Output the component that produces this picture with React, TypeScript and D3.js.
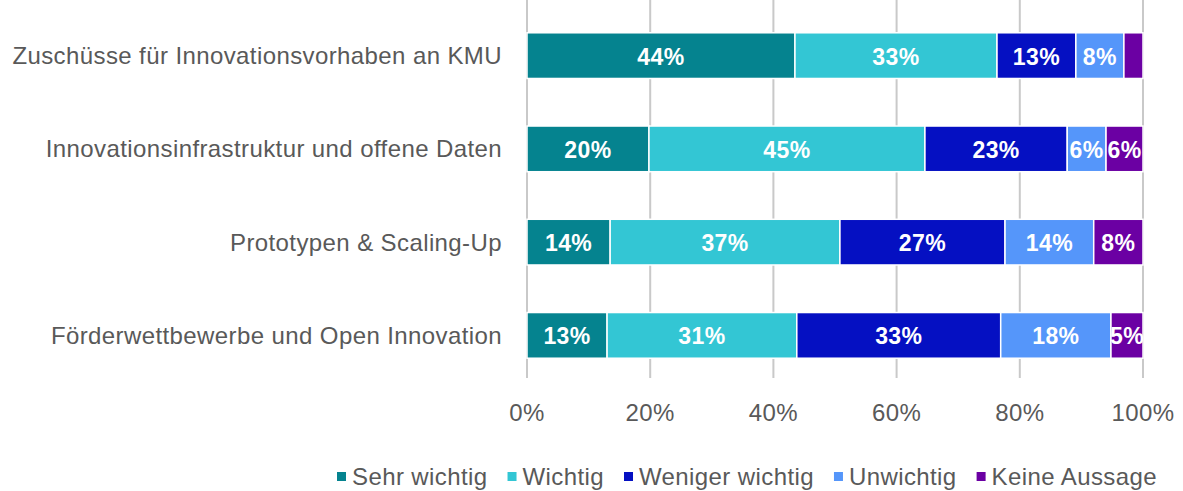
import React from "react";
import * as d3 from "d3";

const categories = [
  "Zuschüsse für Innovationsvorhaben an KMU",
  "Innovationsinfrastruktur und offene Daten",
  "Prototypen & Scaling-Up",
  "Förderwettbewerbe und Open Innovation",
];
const seriesNames = ["Sehr wichtig", "Wichtig", "Weniger wichtig", "Unwichtig", "Keine Aussage"];
const sehrWichtig = [43.5, 19.8, 13.5, 13.0];
const wichtig = [32.8, 44.8, 37.3, 30.8];
const wenigerWichtig = [12.8, 23.1, 26.8, 33.1];
const unwichtig = [7.8, 6.3, 14.4, 17.9];
const keineAussage = [3.1, 6.0, 8.0, 5.2];
const labelsSehr = ["44%", "20%", "14%", "13%"];
const labelsWichtig = ["33%", "45%", "37%", "31%"];
const labelsWeniger = ["13%", "23%", "27%", "33%"];
const labelsUnwichtig = ["8%", "6%", "14%", "18%"];
const labelsKeine = ["", "6%", "8%", "5%"];
const tickValues = [0, 20, 40, 60, 80, 100];

const colors = ["#05838F", "#33C6D4", "#0510C2", "#5596FA", "#6B00A3"];
const FONT = "'Liberation Sans', Arial, Helvetica, sans-serif";
const LS = 0.4;

function measure(text: string, size: number): number {
  const c = document.createElement("canvas").getContext("2d");
  if (!c) return text.length * size * 0.5;
  c.font = `${size}px 'Liberation Sans'`;
  return c.measureText(text).width + LS * text.length;
}

export default function App() {
  const W = 1183;
  const H = 491;
  const x = d3.scaleLinear().domain([0, 100]).range([527, 1143]);
  const y = d3.scaleBand().domain(categories).range([9, 382]).paddingInner(0.51).paddingOuter(0.255);

  const values = [sehrWichtig, wichtig, wenigerWichtig, unwichtig, keineAussage];
  const labels = [labelsSehr, labelsWichtig, labelsWeniger, labelsUnwichtig, labelsKeine];

  const rows = categories.map((cat, i) => {
    const obj: any = { cat };
    seriesNames.forEach((s, k) => (obj[s] = values[k][i]));
    return obj;
  });
  const stack = d3.stack<any>().keys(seriesNames)(rows);

  const legendSize = 24;
  let lx = 337;
  const legendItems = seriesNames.map((s, k) => {
    const item = { s, x: lx, color: colors[k] };
    lx += 9 + 6 + measure(s, legendSize) + 20;
    return item;
  });

  return (
    <svg width={W} height={H} style={{ position: "absolute", left: 0, top: 0, fontFamily: FONT, letterSpacing: `${LS}px` }}>
      <rect width={W} height={H} fill="#ffffff" />
      {tickValues.map((t) => (
        <g key={t}>
          <line x1={x(t)} x2={x(t)} y1={0} y2={378} stroke="#c9c9c9" strokeWidth={2} />
          <text x={x(t)} y={412} textAnchor="middle" dominantBaseline="central" fontSize={24} fill="#595959">
            {t}%
          </text>
        </g>
      ))}
      {stack.map((layer, k) => (
        <g key={seriesNames[k]}>
          {layer.map((d, i) => {
            const x0 = x(d[0]);
            const x1 = x(d[1]);
            const yy = y(categories[i])!;
            const lab = labels[k][i];
            return (
              <g key={i}>
                <rect x={x0} y={yy} width={x1 - x0} height={y.bandwidth()} fill={colors[k]} stroke="#ffffff" strokeWidth={1.5} />
                {lab && (
                  <text x={(x0 + x1) / 2} y={yy + y.bandwidth() / 2 + 1} textAnchor="middle" dominantBaseline="central" fontSize={23} fontWeight="bold" fill="#ffffff">
                    {lab}
                  </text>
                )}
              </g>
            );
          })}
        </g>
      ))}
      {categories.map((c) => (
        <text key={c} x={502} y={y(c)! + y.bandwidth() / 2} textAnchor="end" dominantBaseline="central" fontSize={24} fill="#595959">
          {c}
        </text>
      ))}
      {legendItems.map((it) => (
        <g key={it.s}>
          <rect x={it.x} y={472} width={9} height={9} fill={it.color} />
          <text x={it.x + 15} y={476} dominantBaseline="central" fontSize={legendSize} fill="#595959">
            {it.s}
          </text>
        </g>
      ))}
    </svg>
  );
}
